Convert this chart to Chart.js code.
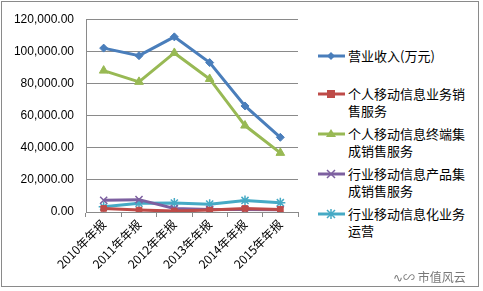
<!DOCTYPE html>
<html>
<head>
<meta charset="utf-8">
<script src="https://cdn.jsdelivr.net/npm/chart.js@4"></script>
<style>
  html, body { margin: 0; padding: 0; background: #fff; }
  #wrap { position: relative; width: 483px; height: 291px; overflow: hidden; }
  #frame { position: absolute; left: 1px; top: 1px; width: 478px; height: 286px; border: 1px solid #8a8a8a; box-sizing: border-box; }
  #box { position: absolute; left: 0; top: 0; width: 305px; height: 291px; }
  #legend { position: absolute; left: 316px; top: 47px; width: 154px; font-family: "Noto Sans CJK SC", sans-serif; font-size: 13px; line-height: 17px; color: #000; }
  .item { display: flex; align-items: flex-start; }
  .item svg { flex: none; margin-top: 2px; margin-right: 2px; }
  .item span { display: block; }
  #mark { position: absolute; left: 393px; top: 268px; font-family: "Noto Sans CJK SC", sans-serif; font-size: 12px; color: #777; }
</style>
</head>
<body>
<div id="wrap">
  <div id="box"><canvas id="myChart"></canvas></div>
  <div id="legend"></div>
  <div id="mark">∿∽ 市值风云</div>
  <div id="frame"></div>
</div>
<script>
const years = ['2010年年报', '2011年年报', '2012年年报', '2013年年报', '2014年年报', '2015年年报'];
const seriesNames = ['营业收入(万元)', '个人移动信息业务销售服务', '个人移动信息终端集成销售服务', '行业移动信息产品集成销售服务', '行业移动信息化业务运营'];
const revenue = [102000, 97300, 109000, 93000, 66000, 46500];
const personalService = [2200, 1200, 600, 1200, 2200, 1600];
const personalTerminal = [88000, 81000, 99000, 82800, 53800, 36800];
const industryProduct = [7300, 7700, 2200, 1600, 1500, 1400];
const industryOps = [3200, 5500, 5600, 4900, 7200, 5800];
const yTicks = [0, 20000, 40000, 60000, 80000, 100000, 120000];

const colors = ['#4a7ebb', '#be4b48', '#98b954', '#7d60a0', '#46aac5'];
const styles = ['rectRot', 'rect', 'triangle', 'crossRot', 'star'];
const sizes = [4, 4, 5, 5, 5];
const values = [revenue, personalService, personalTerminal, industryProduct, industryOps];

const ctx = document.getElementById('myChart');

function makeDatasets() {
  return values.map(function (v, i) {
    return {
      label: seriesNames[i],
      data: v,
      borderColor: colors[i],
      backgroundColor: colors[i],
      pointBackgroundColor: colors[i],
      pointBorderColor: colors[i],
      pointStyle: styles[i],
      pointRadius: sizes[i],
      pointBorderWidth: (i >= 3) ? 1.5 : 1,
      borderWidth: 3,
      tension: 0
    };
  });
}

const myChart = new Chart(ctx, {
  type: 'line',
  data: { labels: years, datasets: makeDatasets() },
  options: {
    responsive: true,
    maintainAspectRatio: false,
    animation: false,
    layout: { padding: { left: 10, right: 7, top: 16, bottom: 7 } },
    plugins: { legend: { display: false }, tooltip: { enabled: false } },
    scales: {
      x: {
        offset: true,
        grid: { offset: true, drawOnChartArea: false, color: '#8a8a8a', tickLength: 5 },
        border: { color: '#8a8a8a' },
        ticks: { color: '#000', font: { family: 'Noto Sans CJK SC', size: 12 }, maxRotation: 45, minRotation: 45, padding: 0 },
        afterFit: function (scale) { scale.height = 72; }
      },
      y: {
        min: 0,
        max: 120000,
        afterBuildTicks: function (scale) { scale.ticks = yTicks.map(v => ({ value: v })); },
        grid: { color: '#8a8a8a', drawTicks: false },
        border: { color: '#8a8a8a' },
        ticks: {
          color: '#000',
          padding: 12,
          font: { family: 'Liberation Sans', size: 12 },
          callback: function (v) { return v.toLocaleString('en-US', { minimumFractionDigits: 2, maximumFractionDigits: 2 }); }
        },
        afterFit: function (scale) { scale.width = 76; }
      }
    }
  }
});

// legend
const legend = document.getElementById('legend');
const markers = [
  '<polygon points="15,3 19,7 15,11 11,7" fill="#4a7ebb"/>',
  '<rect x="11" y="3" width="8" height="8" fill="#be4b48"/>',
  '<polygon points="15,2 20,10 10,10" fill="#98b954"/>',
  '<path d="M11,3 L19,11 M19,3 L11,11" stroke="#7d60a0" stroke-width="1.5"/>',
  '<path d="M11,3 L19,11 M19,3 L11,11 M15,2 L15,12" stroke="#46aac5" stroke-width="1.5"/>'
];
const gaps = [21, 6, 6, 6, 6];
seriesNames.forEach(function (name, i) {
  const d = document.createElement('div');
  d.className = 'item';
  d.style.marginBottom = gaps[i] + 'px';
  d.innerHTML = '<svg width="30" height="14"><line x1="2" y1="7" x2="29" y2="7" stroke="' + colors[i] + '" stroke-width="3"/>' + markers[i] + '</svg><span>' + name + '</span>';
  legend.appendChild(d);
});
</script>
</body>
</html>
